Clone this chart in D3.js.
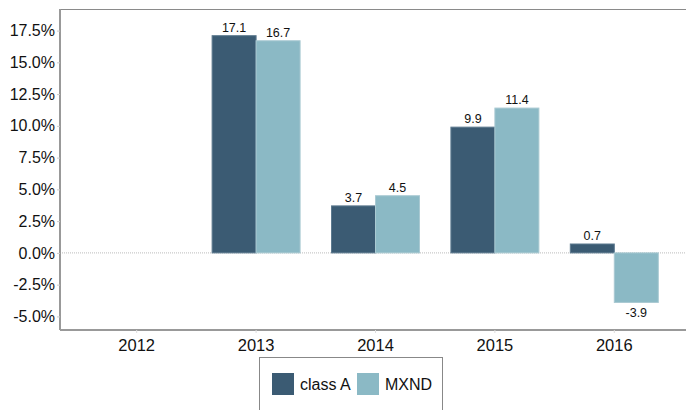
<!DOCTYPE html>
<html>
<head>
<meta charset="utf-8">
<script src="https://cdn.jsdelivr.net/npm/d3@7"></script>
<style>
  body { margin: 0; background: #fff; }
  text { font-family: "Liberation Sans", Arial, sans-serif; }
</style>
</head>
<body>
<div id="chart"></div>
<script>
'use strict';

// chart data
const years = ["2012", "2013", "2014", "2015", "2016"];
const seriesNames = ["class A", "MXND"];
const classA = [null, 17.1, 3.7, 9.9, 0.7];
const mxnd = [null, 16.7, 4.5, 11.4, -3.9];
const yTicks = [-5, -2.5, 0, 2.5, 5, 7.5, 10, 12.5, 15, 17.5];
const colors = ["#3b5b73", "#8bb9c5"];

const width = 686, height = 410;
const plotLeft = 60, plotRight = 686, plotTop = 9, plotBottom = 330;

const svg = d3.select("#chart")
    .append("svg")
    .attr("width", width)
    .attr("height", height);

// scales
const x = d3.scaleBand()
    .domain(years)
    .range([77, 674]);
const inner = d3.scaleBand()
    .domain(seriesNames)
    .range([0, x.bandwidth()])
    .paddingOuter(0.357)
    .paddingInner(0);
const y = d3.scaleLinear()
    .domain([-6.07, 19.2])
    .range([plotBottom, plotTop]);

// frame line on top
svg.append("line")
    .attr("x1", plotLeft).attr("x2", plotRight)
    .attr("y1", plotTop + 0.5).attr("y2", plotTop + 0.5)
    .attr("stroke", "#8a8a8a");

// zero line
svg.append("line")
    .attr("x1", plotLeft).attr("x2", plotRight)
    .attr("y1", y(0)).attr("y2", y(0))
    .attr("stroke", "#aaa")
    .attr("stroke-width", 0.8)
    .attr("stroke-dasharray", "1,1");

// y axis
const yAxis = svg.append("g")
    .attr("transform", "translate(" + plotLeft + ",0)")
    .call(d3.axisLeft(y).tickValues(yTicks).tickSize(3).tickSizeOuter(0)
        .tickFormat(d => d.toFixed(1) + "%"));
yAxis.select(".domain").attr("stroke", "#999").attr("stroke-width", 2)
    .attr("d", "M0," + plotTop + "V" + plotBottom);
yAxis.selectAll(".tick line").attr("stroke", "#ccc");
yAxis.selectAll(".tick text")
    .attr("font-size", 16)
    .attr("font-family", "Liberation Sans, Arial, sans-serif")
    .attr("fill", "#111")
    .attr("x", -5);

// x axis
const xAxis = svg.append("g")
    .attr("transform", "translate(0," + plotBottom + ")")
    .call(d3.axisBottom(x).tickSize(3).tickSizeOuter(0));
xAxis.select(".domain").attr("stroke", "#999").attr("stroke-width", 2)
    .attr("d", "M" + plotLeft + ",0H" + plotRight);
xAxis.selectAll(".tick line").attr("stroke", "#ddd");
xAxis.selectAll(".tick text")
    .attr("font-size", 16.5)
    .attr("font-family", "Liberation Sans, Arial, sans-serif")
    .attr("fill", "#111")
    .attr("y", 9);

// bars
const rows = [];
years.forEach((yr, i) => {
    [classA, mxnd].forEach((arr, s) => {
        if (arr[i] !== null) rows.push({ year: yr, series: seriesNames[s], value: arr[i], s: s });
    });
});

svg.selectAll("rect.bar")
    .data(rows)
    .enter()
    .append("rect")
    .attr("class", "bar")
    .attr("x", d => x(d.year) + inner(d.series))
    .attr("width", inner.bandwidth())
    .attr("y", d => y(Math.max(0, d.value)))
    .attr("height", d => Math.abs(y(d.value) - y(0)))
    .attr("fill", d => colors[d.s])
    .attr("stroke", d => d.s === 0 ? "#5d7a8f" : "#a9c9d2")
    .attr("stroke-width", 1);

svg.selectAll("text.val")
    .data(rows)
    .enter()
    .append("text")
    .attr("class", "val")
    .attr("x", d => x(d.year) + inner(d.series) + inner.bandwidth() / 2)
    .attr("y", d => d.value >= 0 ? y(d.value) - 4 : y(d.value) + 15)
    .attr("text-anchor", "middle")
    .attr("font-size", 12.5)
    .attr("fill", "#111")
    .text(d => d.value.toFixed(1));

// legend
const legend = svg.append("g");
legend.append("rect")
    .attr("x", 259.5).attr("y", 357.5)
    .attr("width", 183).attr("height", 60)
    .attr("fill", "#fff")
    .attr("stroke", "#888");
const legendX = [272, 357];
seriesNames.forEach((name, i) => {
    legend.append("rect")
        .attr("x", legendX[i]).attr("y", 373)
        .attr("width", 22).attr("height", 22)
        .attr("fill", colors[i]);
    legend.append("text")
        .attr("x", legendX[i] + 28).attr("y", 390)
        .attr("font-size", 16)
        .attr("fill", "#111")
        .text(name);
});
</script>
</body>
</html>
